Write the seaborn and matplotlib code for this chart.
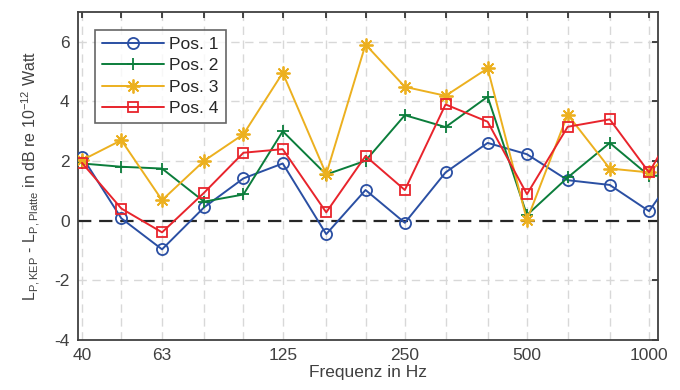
import numpy as np
import matplotlib
matplotlib.use('Agg')
import matplotlib.pyplot as plt
import seaborn as sns

# third-octave band centre frequencies (Hz), incl. 1250 which is clipped by the axis
freq = [40, 50, 63, 80, 100, 125, 160, 200, 250, 315, 400, 500, 630, 800, 1000, 1250]
tick_freq = [40, 63, 125, 250, 500, 1000]

pos1 = [2.15, 0.08, -0.96, 0.45, 1.42, 1.92, -0.45, 1.03, -0.07, 1.62, 2.61, 2.23, 1.36, 1.20, 0.32, 2.2]
pos2 = [1.92, 1.81, 1.75, 0.64, 0.88, 3.00, 1.55, 2.01, 3.54, 3.14, 4.16, 0.19, 1.45, 2.61, 1.51, 1.5]
pos3 = [2.03, 2.70, 0.69, 2.01, 2.90, 4.96, 1.56, 5.91, 4.49, 4.19, 5.11, 0.02, 3.56, 1.75, 1.62, 2.85]
pos4 = [1.94, 0.41, -0.39, 0.94, 2.28, 2.40, 0.28, 2.17, 1.03, 3.90, 3.32, 0.89, 3.15, 3.40, 1.62, 3.9]

series = [
    ('Pos. 1', pos1, '#2a4fa3', 'o', 8),
    ('Pos. 2', pos2, '#0b7d3b', '+', 9),
    ('Pos. 3', pos3, '#ecb01f', (8, 2, 0), 10),
    ('Pos. 4', pos4, '#e8242c', 's', 7),
]

sns.set_style('white')
plt.rcParams['font.family'] = ['Liberation Sans', 'DejaVu Sans']
plt.rcParams['mathtext.fontset'] = 'custom'
plt.rcParams['mathtext.rm'] = 'Liberation Sans'
plt.rcParams['mathtext.it'] = 'Liberation Sans'

text_col = '#404040'
fig = plt.figure(figsize=(6.8, 3.9), dpi=100)
ax = fig.add_axes([78 / 680, 1 - 340 / 390, 580 / 680, 328 / 390])

# grid first so it sits below the data
for f in freq[:-1]:
    ax.axvline(f, color='#d8d8d8', lw=1, dashes=(6, 4), zorder=0)
for yv in [-2, 2, 4, 6]:
    ax.axhline(yv, color='#d8d8d8', lw=1, dashes=(6, 4), zorder=0)
ax.axhline(0, color='#262626', lw=1.6, dashes=(6, 3.5), zorder=1)

for name, vals, col, mk, ms in series:
    sns.lineplot(x=freq, y=vals, ax=ax, color=col, marker=mk, markersize=ms,
                 markeredgecolor=col, markerfacecolor='none', markeredgewidth=1.3,
                 linewidth=1.4, label=name, zorder=3)

ax.set_xscale('log')
ax.set_xlim(39.1, 1052)
ax.set_ylim(-4, 7)
ax.set_xticks(freq[:-1])
ax.set_xticklabels([str(f) if f in tick_freq else '' for f in freq[:-1]])
ax.xaxis.set_minor_locator(matplotlib.ticker.NullLocator())
ax.set_yticks([-4, -2, 0, 2, 4, 6])
ax.set_yticklabels(['-4', '-2', '0', '2', '4', '6'])
ax.tick_params(direction='in', length=4, width=1.2, colors='#262626',
               labelcolor=text_col, labelsize=12.5, top=True, right=True, pad=6)
for sp in ax.spines.values():
    sp.set_color('#404040')
    sp.set_linewidth(1.3)

ax.set_xlabel('Frequenz in Hz', fontsize=12.5, color=text_col, labelpad=1)
ax.set_ylabel(r'L$_{\mathrm{P,KEP}}$ - L$_{\mathrm{P,Platte}}$ in dB re 10$^{-12}$ Watt',
              fontsize=11.5, color=text_col, labelpad=9)

leg = ax.legend(loc='upper left', bbox_to_anchor=(0.029, 0.945), borderaxespad=0,
                fontsize=12.5, frameon=True, fancybox=False, handlelength=3.6,
                handletextpad=0.3, labelspacing=0.35, borderpad=0.4)
leg.get_frame().set_edgecolor('#404040')
leg.get_frame().set_linewidth(1.2)
for t in leg.get_texts():
    t.set_color('#262626')

fig.savefig('out.png', dpi=100)
